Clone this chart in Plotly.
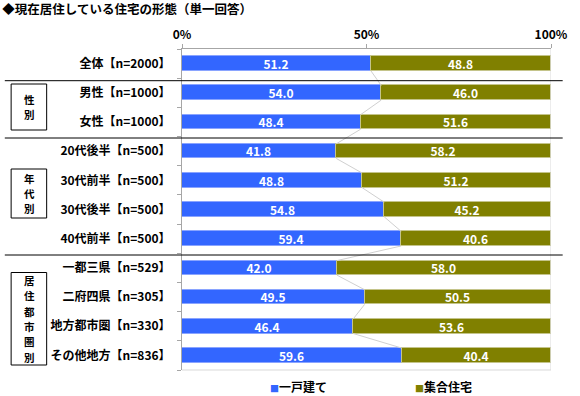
import plotly.graph_objects as go

categories = ["全体【n=2000】", "男性【n=1000】", "女性【n=1000】",
              "20代後半【n=500】", "30代前半【n=500】", "30代後半【n=500】", "40代前半【n=500】",
              "一都三県【n=529】", "二府四県【n=305】", "地方都市圏【n=330】", "その他地方【n=836】"]
detached = [51.2, 54.0, 48.4, 41.8, 48.8, 54.8, 59.4, 42.0, 49.5, 46.4, 59.6]
apartment = [48.8, 46.0, 51.6, 58.2, 51.2, 45.2, 40.6, 58.0, 50.5, 53.6, 40.4]
series_names = ["一戸建て", "集合住宅"]
x_ticks = [0, 50, 100]
x_ticklabels = ["0%", "50%", "100%"]
title_text = "◆現在居住している住宅の形態（単一回答）"
groups = ["性別", "年代別", "居住都市圏別"]

BLUE = "#3366FF"
OLIVE = "#808000"
FONT = "Noto Sans CJK JP"

W, H = 580, 396
L, R, T, B = 182, 561, 49, 370
n = len(categories)
ypos = list(range(n))
bw = 0.5

def px_x(p):
    return (p - L) / (R - L)

def px_y(p):
    return (B - p) / (B - T)

fig = go.Figure()
for vals, col, edge, name in [(detached, BLUE, "#8aa4ff", series_names[0]),
                              (apartment, OLIVE, "#c4c48a", series_names[1])]:
    fig.add_trace(go.Bar(
        y=ypos, x=vals, orientation="h", name=name, width=bw,
        marker=dict(color=col, line=dict(color=edge, width=1)),
        text=[f"{v:.1f}" for v in vals], textposition="inside", insidetextanchor="middle",
        constraintext="none", cliponaxis=False,
        textfont=dict(color="white", size=12, family=FONT, weight="bold"),
        showlegend=False, hoverinfo="skip"))

# series lines connecting stacked boundaries
sx, sy = [], []
for i in range(n - 1):
    sx += [detached[i], detached[i + 1], None]
    sy += [i + bw / 2, i + 1 - bw / 2, None]
fig.add_trace(go.Scatter(x=sx, y=sy, mode="lines", line=dict(color="#d0d0d0", width=1),
                         showlegend=False, hoverinfo="skip"))

shapes = []
shapes.append(dict(type="line", xref="x", yref="paper", x0=100, x1=100, y0=0, y1=1,
                   line=dict(color="#d9d9d9", width=1)))
shapes.append(dict(type="line", xref="paper", yref="paper", x0=0, x1=1, y0=0, y1=0,
                   line=dict(color="#d9d9d9", width=1)))
for py in [80.7, 138, 255]:
    shapes.append(dict(type="line", xref="paper", yref="paper", x0=px_x(0), x1=px_x(573),
                       y0=px_y(py), y1=px_y(py), line=dict(color="black", width=1)))
boxes = [(84, 130), (169, 218), (272.5, 365)]
annotations = []
for (y0, y1), g in zip(boxes, groups):
    shapes.append(dict(type="rect", xref="paper", yref="paper", x0=px_x(6.5), x1=px_x(43),
                       y0=px_y(y1), y1=px_y(y0), line=dict(color="black", width=1)))
    c = (y0 + y1) / 2
    step = 15.3
    for k, ch in enumerate(g):
        py = c + (k - (len(g) - 1) / 2) * step
        annotations.append(dict(text=ch, xref="paper", yref="paper", x=px_x(25), y=px_y(py),
                                showarrow=False, xanchor="center", yanchor="middle",
                                font=dict(size=10.5, family=FONT, weight="bold", color="black")))

leg = [(BLUE, series_names[0], 270), (OLIVE, series_names[1], 419)]
for col, name, xp in leg:
    annotations.append(dict(
        text=f"<span style='color:{col};font-size:9px'>■</span>{name}",
        xref="paper", yref="paper", x=px_x(xp), y=px_y(386), xanchor="left", yanchor="middle",
        showarrow=False, font=dict(size=12, family=FONT, weight="bold", color="black")))

fig.update_layout(
    width=W, height=H,
    margin=dict(l=L, r=W - R, t=T, b=H - B, pad=0),
    barmode="stack", bargap=0,
    plot_bgcolor="white", paper_bgcolor="white",
    title=dict(text=title_text, x=0.004, xref="container", xanchor="left",
               y=1 - 10 / H, yref="container", yanchor="middle",
               font=dict(size=12.5, family=FONT, weight="bold", color="black")),
    shapes=shapes, annotations=annotations,
    xaxis=dict(range=[0, 100], side="top", tickvals=x_ticks, ticktext=x_ticklabels,
               ticks="outside", ticklen=4, tickcolor="#a6a6a6", showgrid=False, zeroline=False,
               showline=True, linecolor="#a6a6a6", linewidth=1,
               tickfont=dict(size=12, family=FONT, weight="bold", color="black")),
    yaxis=dict(range=[n - 0.5, -0.5], tickvals=ypos, ticktext=categories, ticks="",
               showgrid=False, zeroline=False, showline=True, linecolor="#a6a6a6", linewidth=1,
               ticklabelstandoff=8,
               minor=dict(tickvals=[i - 0.5 for i in range(n + 1)], ticks="outside", ticklen=4,
                          tickcolor="#a6a6a6", showgrid=False),
               tickfont=dict(size=12, family=FONT, weight="bold", color="black")),
)

fig.write_html("out.html", config={"displayModeBar": False},
               post_script="document.body.style.margin='0';document.body.style.overflow='hidden';")
